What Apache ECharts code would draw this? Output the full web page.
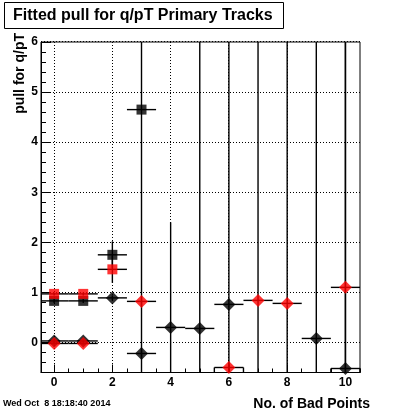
<!DOCTYPE html>
<html>
<head>
<meta charset="utf-8">
<script src="https://cdn.jsdelivr.net/npm/echarts@6/dist/echarts.min.js"></script>
<style>html,body{margin:0;padding:0;background:#fff}#c{width:400px;height:414px}</style>
</head>
<body>
<div id="c"></div>
<script>
// ---- data ----
const titleText = 'Fitted pull for q/pT Primary Tracks';
const yTitle = 'pull for q/pT';
const xTitle = 'No. of Bad Points';
const dateText = 'Wed Oct  8 18:18:40 2014';

const xTickLabels = [0, 2, 4, 6, 8, 10];
const yTickLabels = [0, 1, 2, 3, 4, 5, 6];

// black squares
const blackSqX   = [0, 1, 2, 3];
const blackSqVal = [0.83, 0.83, 1.75, 4.65];
const blackSqErr = [0.04, 0.04, 0.27, 8];
// red squares
const redSqX   = [0, 1, 2];
const redSqVal = [0.97, 0.97, 1.46];
const redSqErr = [0.03, 0.03, 0.27];
// black diamonds
const blackDiX   = [0, 1, 2, 3, 4, 5, 6, 9, 10];
const blackDiVal = [0.03, 0.03, 0.89, -0.22, 0.30, 0.28, 0.76, 0.08, -0.52];
const blackDiErr = [0.02, 0.02, 0.05, 0.1, 2.1, 8, 8, 8, 8];
// red diamonds
const redDiX   = [0, 1, 3, 6, 7, 8, 10];
const redDiVal = [-0.02, -0.02, 0.82, -0.50, 0.84, 0.78, 1.10];
const redDiErr = [0.02, 0.02, 0.1, 0.1, 8, 8, 8];

const xMin = -0.45, xMax = 10.5, yMin = -0.6, yMax = 6;

// ---- build ----
function zip(xs, vs, es) { return xs.map((x, i) => [x, vs[i], es[i]]); }
const xMinor = [];
for (let k = 1; k <= 21; k++) { const v = k * 0.5; if (k % 4 !== 0) xMinor.push(v); }
const yMinor = [];
for (let k = -3; k <= 30; k++) { if (k % 5 !== 0) yMinor.push(+(k * 0.2).toFixed(2)); }

const crisp = v => Math.round(v - 0.5) + 0.5;

function errRender(params, api) {
  const x = api.value(0), y = api.value(1), e = api.value(2);
  const cs = params.coordSys;
  const clampY = v => Math.max(cs.y, Math.min(cs.y + cs.height, v));
  const clampX = v => Math.max(cs.x, Math.min(cs.x + cs.width, v));
  const l = api.coord([x - 0.5, y]), r = api.coord([x + 0.5, y]);
  const t = api.coord([x, y + e]), b = api.coord([x, y - e]);
  const st = { stroke: '#000', lineWidth: 1.4 };
  const ch = [
    { type: 'line', shape: { x1: clampX(l[0]), y1: l[1], x2: clampX(r[0]), y2: r[1] }, style: st },
    { type: 'line', shape: { x1: t[0], y1: clampY(t[1]), x2: b[0], y2: clampY(b[1]) }, style: st }
  ];
  if (y - yMin < 0.15) {
    const bot = cs.y + cs.height;
    ch.push({ type: 'line', shape: { x1: l[0], y1: l[1], x2: l[0], y2: bot }, style: st });
    ch.push({ type: 'line', shape: { x1: r[0], y1: r[1], x2: r[0], y2: bot }, style: st });
  }
  return { type: 'group', children: ch };
}

// grid lines: data item [value, isVertical]
const gridData = xTickLabels.map(v => [v, 1]).concat(yTickLabels.map(v => [v, 0]));
function gridRender(params, api) {
  const v = api.value(0), vert = api.value(1);
  const cs = params.coordSys;
  const st = { stroke: '#000', lineWidth: 1, lineDash: [1, 2] };
  if (vert) {
    const p = crisp(api.coord([v, yMin])[0]);
    return { type: 'line', shape: { x1: p, y1: cs.y, x2: p, y2: cs.y + cs.height }, style: st };
  }
  const p = crisp(api.coord([xMin, v])[1]);
  return { type: 'line', shape: { x1: cs.x, y1: p, x2: cs.x + cs.width, y2: p }, style: st };
}

const font = 'Liberation Sans, Arial, Helvetica, sans-serif';
const sets = [
  { d: zip(blackSqX, blackSqVal, blackSqErr), sym: 'rect', size: 10, color: '#000' },
  { d: zip(redSqX, redSqVal, redSqErr), sym: 'rect', size: 10, color: '#ff0000' },
  { d: zip(blackDiX, blackDiVal, blackDiErr), sym: 'diamond', size: 13, color: '#000' },
  { d: zip(redDiX, redDiVal, redDiErr), sym: 'diamond', size: 13, color: '#ff0000' }
];

const series = [{
  type: 'custom', renderItem: gridRender, data: gridData, z: 1, silent: true, animation: false,
  encode: { x: -1, y: -1 }
}];
sets.forEach(s => series.push({
  type: 'custom', renderItem: errRender, data: s.d, z: 2, silent: true, animation: false,
  encode: { x: 0, y: 1 }
}));
sets.forEach(s => series.push({
  type: 'scatter', data: s.d.map(p => [p[0], p[1]]), symbol: s.sym, symbolSize: s.size,
  itemStyle: { color: s.color }, z: 3, silent: true, animation: false
}));

const chart = echarts.init(document.getElementById('c'), null, { renderer: 'canvas' });
chart.setOption({
  animation: false,
  backgroundColor: '#fff',
  grid: { left: 41, top: 42, width: 319, height: 330.5, show: true, borderColor: '#000', borderWidth: 1, backgroundColor: 'transparent' },
  xAxis: [{
    type: 'value', min: xMin, max: xMax, position: 'bottom',
    axisLine: { show: true, onZero: false, lineStyle: { color: '#000', width: 1 } },
    axisTick: { show: true, inside: true, length: 8, customValues: xTickLabels, lineStyle: { color: '#000' } },
    axisLabel: { customValues: xTickLabels, color: '#000', fontWeight: 'bold', fontSize: 12, fontFamily: font, margin: 4 },
    splitLine: { show: false }
  }, {
    type: 'value', min: xMin, max: xMax, position: 'bottom', gridIndex: 0,
    axisLine: { show: false, onZero: false },
    axisTick: { show: true, inside: true, length: 4, customValues: xMinor, lineStyle: { color: '#000' } },
    axisLabel: { show: false },
    splitLine: { show: false }
  }],
  yAxis: [{
    type: 'value', min: yMin, max: yMax, position: 'left',
    axisLine: { show: true, onZero: false, lineStyle: { color: '#000', width: 1 } },
    axisTick: { show: true, inside: true, length: 10, customValues: yTickLabels, lineStyle: { color: '#000' } },
    axisLabel: { customValues: yTickLabels, color: '#000', fontWeight: 'bold', fontSize: 12, fontFamily: font, margin: 3 },
    splitLine: { show: false }
  }, {
    type: 'value', min: yMin, max: yMax, position: 'left', gridIndex: 0,
    axisLine: { show: false, onZero: false },
    axisTick: { show: true, inside: true, length: 5, customValues: yMinor, lineStyle: { color: '#000' } },
    axisLabel: { show: false },
    splitLine: { show: false }
  }],
  graphic: [
    { type: 'rect', shape: { x: 4.5, y: 2.5, width: 279, height: 26 }, style: { fill: '#fff', stroke: '#000', lineWidth: 1 } },
    { type: 'text', x: 13, y: 16, style: { text: titleText, fill: '#000', font: 'bold 16px ' + font, textVerticalAlign: 'middle', textAlign: 'left' } },
    { type: 'text', x: 20, y: 33, rotation: Math.PI / 2, style: { text: yTitle, fill: '#000', font: 'bold 14px ' + font, textAlign: 'right', textVerticalAlign: 'middle' } },
    { type: 'text', x: 370, y: 404, style: { text: xTitle, fill: '#000', font: 'bold 14px ' + font, textAlign: 'right', textVerticalAlign: 'middle' } },
    { type: 'text', x: 3, y: 404, style: { text: dateText, fill: '#000', font: 'bold 9px ' + font, textAlign: 'left', textVerticalAlign: 'middle' } }
  ],
  series: series
});
</script>
</body>
</html>
